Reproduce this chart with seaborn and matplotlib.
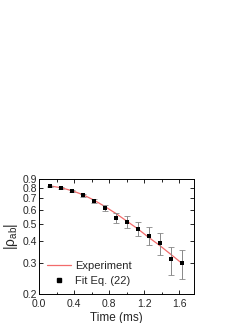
import numpy as np
import pandas as pd
import matplotlib
matplotlib.use("Agg")
import matplotlib.pyplot as plt
import seaborn as sns
from matplotlib.lines import Line2D
from matplotlib.ticker import FixedLocator, NullLocator, MultipleLocator

time_ms = [0.125, 0.25, 0.375, 0.5, 0.625, 0.75, 0.875, 1.0, 1.125, 1.25, 1.375, 1.5, 1.625]
rho_fit = [0.82, 0.80, 0.77, 0.73, 0.675, 0.615, 0.545, 0.515, 0.47, 0.43, 0.39, 0.315, 0.30]
rho_err = [0.005, 0.008, 0.01, 0.015, 0.02, 0.025, 0.035, 0.04, 0.045, 0.05, 0.055, 0.057, 0.057]
rho_exp = [0.825, 0.805, 0.775, 0.735, 0.685, 0.63, 0.575, 0.52, 0.47, 0.42, 0.378, 0.337, 0.30]
y_ticks = [0.2, 0.3, 0.4, 0.5, 0.6, 0.7, 0.8, 0.9]
x_ticks = [0.0, 0.4, 0.8, 1.2, 1.6]

sns.set_theme(style="ticks")
plt.rcParams['font.family'] = ['Liberation Sans', 'DejaVu Sans']
plt.rcParams['mathtext.fontset'] = 'custom'
plt.rcParams['mathtext.rm'] = 'Liberation Sans'
plt.rcParams['mathtext.it'] = 'Liberation Sans'

df = pd.DataFrame({"t": time_ms, "fit": rho_fit, "err": rho_err, "exp": rho_exp})

fig = plt.figure(figsize=(2.49, 3.23), dpi=100)
ax = fig.add_axes([0.157, 0.09, 0.623, 0.355])

red = "#f26b6b"
sns.lineplot(data=df, x="t", y="exp", ax=ax, color=red, linewidth=0.9, legend=False)
ax.errorbar(df["t"], df["fit"], yerr=df["err"], fmt="none", ecolor="#888888",
            elinewidth=0.7, capsize=2, capthick=0.6)
sns.scatterplot(data=df, x="t", y="fit", ax=ax, marker="s", s=11, color="black",
                edgecolor="black", linewidth=0, legend=False, zorder=5)

ax.set_yscale("log")
ax.set_ylim(0.2, 0.9)
ax.set_xlim(0.0, 1.77)
ax.yaxis.set_major_locator(FixedLocator(y_ticks))
ax.yaxis.set_minor_locator(NullLocator())
ax.set_yticklabels([f"{v:.1f}" for v in y_ticks])
ax.xaxis.set_major_locator(FixedLocator(x_ticks))
ax.xaxis.set_minor_locator(MultipleLocator(0.2))
ax.set_xticklabels([f"{v:.1f}" for v in x_ticks])

ax.tick_params(axis="both", which="both", direction="in", top=True, right=True,
               labelsize=7.5, width=0.6, color="black")
ax.tick_params(axis="y", pad=1.5)
ax.tick_params(axis="x", pad=4)
ax.tick_params(which="major", length=3)
ax.tick_params(which="minor", length=1.8)
for s in ax.spines.values():
    s.set_linewidth(0.7)
    s.set_color("black")

ax.set_xlabel("Time (ms)", fontsize=8.5, labelpad=1.5)
ax.set_ylabel("|ρ$_{ab}$|", fontsize=10, labelpad=2)

handles = [Line2D([], [], color=red, linewidth=0.9),
           Line2D([], [], color="black", marker="s", markersize=3.3, linestyle="none")]
ax.legend(handles, ["Experiment", "Fit Eq. (22)"], loc="lower left", bbox_to_anchor=(0.0, 0.0),
          frameon=False, fontsize=8, handlelength=2.2, handletextpad=0.3,
          borderaxespad=0.3, labelspacing=0.45)

fig.savefig("out.png", dpi=100)
